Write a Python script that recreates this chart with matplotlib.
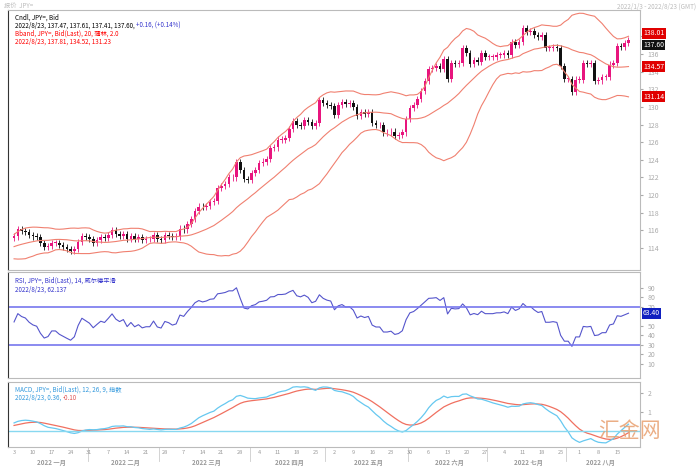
import numpy as np, pandas as pd
import matplotlib
matplotlib.use("Agg")
import matplotlib.pyplot as plt
from matplotlib.patches import Rectangle
plt.rcParams['font.family'] = ['Noto Sans CJK SC', 'DejaVu Sans']

warmup = [113.5,113.1,112.8,113.4,113.8,113.5,113.2,113.5,113.7,113.3,113.6,113.5,113.8,113.7,114.1,
          113.7,113.6,114.1,114.4,114.4,114.9,115.0,115.1,115.0,115.1]
jan = [115.3,116.1,115.9,115.8,115.5,115.3,115.2,114.6,114.1,114.2,114.6,114.6,114.3,114.1,113.9,113.7,113.9,114.7,115.4,115.2]
feb = [115.0,114.6,114.9,115.2,115.1,115.5,116.0,115.6,115.4,115.6,115.0,115.4,115.0,115.2,114.9,115.0,115.0,115.5,115.0]
mar = [114.9,115.5,115.4,115.2,115.3,116.2,116.1,116.7,117.3,118.2,118.7,118.6,118.8,119.2,119.3,120.8,121.0,121.3,122.0,122.0,123.7,122.8,121.8,121.7]
apr = [122.5,122.8,123.6,123.8,124.1,125.3,125.4,126.3,126.3,126.5,127.5,128.4,127.9,127.8,128.5,128.3,127.8,128.2,130.8,130.4]
may = [130.2,130.1,129.1,130.2,130.6,130.3,130.4,130.0,129.0,129.4,129.2,129.4,128.2,127.9,127.9,127.1,127.1,127.2,126.7,126.8,127.1,128.6]
jun = [129.9,130.2,130.9,131.8,132.9,134.3,134.4,134.6,134.3,135.4,133.2,135.0,134.9,135.0,136.7,136.1,134.9,135.3,135.1,136.1,135.7]
jul = [135.7,135.7,135.9,135.9,136.1,135.9,137.4,137.0,137.4,138.9,138.5,138.6,138.2,137.9,138.1,136.7,136.7,136.8,136.7,134.6,133.2]
aug = [133.2,131.7,133.1,133.1,135.0,134.9,135.0,132.9,133.0,133.4,133.4,134.8,135.0,136.9,136.8,137.2,137.6]
month_labels = ['2022 一月','2022 二月','2022 三月','2022 四月','2022 五月','2022 六月','2022 七月','2022 八月']
months = [jan,feb,mar,apr,may,jun,jul,aug]

allc = pd.Series(warmup + sum(months, []))
n0 = len(warmup)
mid = allc.rolling(20, min_periods=1).mean()
sd = allc.rolling(20, min_periods=2).std().fillna(0.5)
up, lo = mid + 2*sd, mid - 2*sd
d = allc.diff()
g = d.clip(lower=0).ewm(alpha=1/14, adjust=False).mean()
l = (-d.clip(upper=0)).ewm(alpha=1/14, adjust=False).mean()
rsi = 100 - 100/(1+g/l)
macd = allc.ewm(span=12, adjust=False).mean() - allc.ewm(span=26, adjust=False).mean()
sig = macd.ewm(span=9, adjust=False).mean()

close = allc.values[n0:]
opn = allc.values[n0-1:-1]
N = len(close)
x = np.arange(N)

fig = plt.figure(figsize=(7, 4.72), dpi=100)
L, W = 0.012, 0.902
ax1 = fig.add_axes([L, 0.428, W, 0.551])
ax2 = fig.add_axes([L, 0.199, W, 0.225])
ax3 = fig.add_axes([L, 0.052, W, 0.139])
for a in (ax1, ax2, ax3):
    a.set_xlim(-1.5, N + 2)
    a.yaxis.tick_right()
    a.tick_params(axis='y', labelsize=5, colors='#aaaaaa', length=2)
    a.tick_params(axis='x', bottom=False, labelbottom=False)
    for s in a.spines.values():
        s.set_color('#bbbbbb')
    a.spines['left'].set_color('#333333')

for i in range(N):
    o, c = opn[i], close[i]
    col = '#e8157e' if c >= o else '#111111'
    ax1.vlines(x[i], min(o, c) - 0.35, max(o, c) + 0.35, color=col, lw=0.6)
    ax1.add_patch(Rectangle((x[i]-0.35, min(o, c)), 0.7, max(abs(c-o), 0.05), color=col, lw=0))
for s in (up, mid, lo):
    ax1.plot(x, s.values[n0:], color='#f08070', lw=0.8)
ax1.set_ylim(111.5, 141)
ax1.set_yticks(np.arange(114, 140, 2))

def tag(ax, val, fc, dy=0.0):
    yy = ax.transAxes.inverted().transform(ax.transData.transform((0, val)))[1] + dy
    ax.text(1.005, yy, f'{val:.2f}', transform=ax.transAxes, fontsize=5, color='white', va='center',
            bbox=dict(boxstyle='square,pad=0.2', fc=fc, ec='none'), zorder=5)

tag(ax1, up.values[-1], '#e00000', 0.012)
tag(ax1, close[-1], '#111111', -0.02)
tag(ax1, mid.values[-1], '#e00000')
tag(ax1, lo.values[-1], '#e00000')
ax1.text(0.01, 0.985, 'Cndl, JPY=, Bid', transform=ax1.transAxes, fontsize=4.5, va='top')
t = ax1.text(0.01, 0.955, '2022/8/23, 137.47, 137.61, 137.41, 137.60, ', transform=ax1.transAxes, fontsize=4.5, va='top')
ax1.annotate('+0.16, (+0.14%)', xycoords=t, xy=(1, 1), va='top', fontsize=4.5, color='#3333cc')
ax1.text(0.01, 0.925, 'Bband, JPY=, Bid(Last), 20, 蒲林, 2.0', transform=ax1.transAxes, fontsize=4.5, va='top', color='red')
ax1.text(0.01, 0.895, '2022/8/23, 137.81, 134.52, 131.23', transform=ax1.transAxes, fontsize=4.5, va='top', color='red')

ax2.plot(x, rsi.values[n0:], color='#5555cc', lw=0.8)
ax2.axhline(70, color='#7777ee', lw=1.2)
ax2.axhline(30, color='#7777ee', lw=1.2)
ax2.set_ylim(-5, 107)
ax2.set_yticks([10, 20, 30, 40, 50, 70, 80, 90])
ax2.text(0.01, 0.96, 'RSI, JPY=, Bid(Last), 14, 威尔德平滑', transform=ax2.transAxes, fontsize=4.5, va='top', color='#3333cc')
ax2.text(0.01, 0.87, '2022/8/23, 62.137', transform=ax2.transAxes, fontsize=4.5, va='top', color='#3333cc')
tag(ax2, rsi.values[-1], '#1020c0')

ax3.plot(x, sig.values[n0:], color='#f07060', lw=0.9)
ax3.plot(x, macd.values[n0:], color='#66c8f0', lw=0.9)
ax3.axhline(0, color='#88d8f0', lw=1.0)
ax3.set_ylim(-0.85, 2.6)
ax3.set_yticks([1, 2])
ax3.text(0.01, 0.95, 'MACD, JPY=, Bid(Last), 12, 26, 9, 指数', transform=ax3.transAxes, fontsize=4.5, va='top', color='#3399dd')
t2 = ax3.text(0.01, 0.82, '2022/8/23, 0.36, ', transform=ax3.transAxes, fontsize=4.5, va='top', color='#3399dd')
ax3.annotate('-0.10', xycoords=t2, xy=(1, 1), va='top', fontsize=4.5, color='#e05050')

# date axis
start = 0
for lab, m in zip(month_labels, months):
    ax3.annotate(lab, xy=(start + len(m)/2, 0), xycoords=ax3.get_xaxis_transform(), xytext=(0, -8),
                 textcoords='offset points', fontsize=4.5, ha='center', va='top', color='#999999', fontweight='bold')
    if start:
        ax3.axvline(start - 0.5, ymin=-0.2, ymax=0, clip_on=False, color='#cccccc', lw=0.6)
    start += len(m)
dates = pd.bdate_range('2022-01-03', periods=N)
for i, dt in enumerate(dates):
    if dt.weekday() == 0:
        ax3.annotate(str(dt.day), xy=(i, 0), xycoords=ax3.get_xaxis_transform(), xytext=(0, -1.5),
                     textcoords='offset points', fontsize=4, ha='center', va='top', color='#999999')

fig.text(0.005, 0.995, '报价  JPY=', fontsize=4.5, va='top', color='#bbbbbb')
fig.text(0.995, 0.995, '2022/1/3 - 2022/8/23 (GMT)', fontsize=4.5, va='top', ha='right', color='#bbbbbb')
fig.text(0.855, 0.075, '汇金网', fontsize=15, color='#e8a070', alpha=0.85)
fig.savefig('out.png', dpi=100)
